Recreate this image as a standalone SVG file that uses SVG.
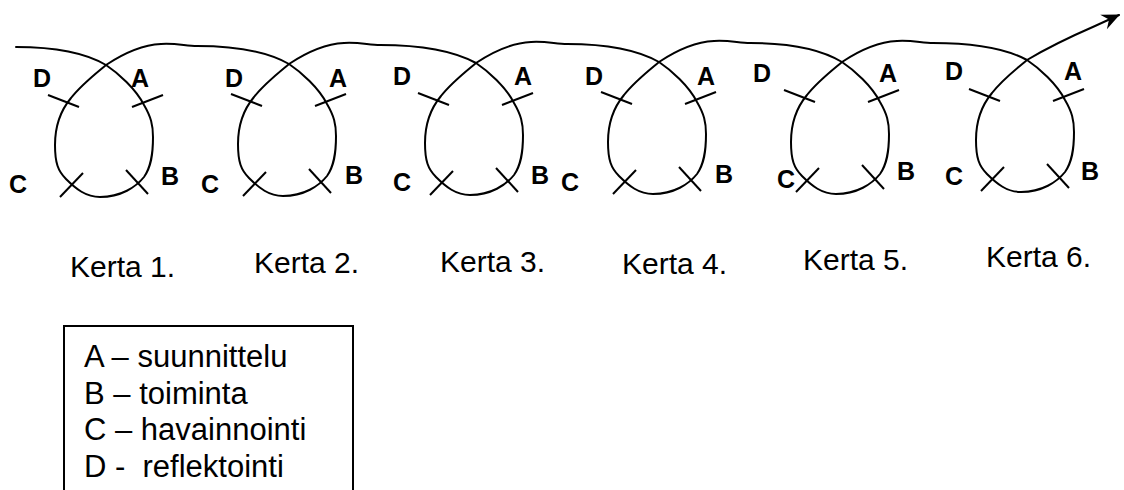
<svg xmlns="http://www.w3.org/2000/svg" xmlns:xlink="http://www.w3.org/1999/xlink" width="1124" height="490" viewBox="0 0 1124 490">
<style>
  .thread { fill: none; stroke: #000; stroke-width: 2; stroke-linecap: round; stroke-linejoin: round; }
  .tick { stroke: #000; stroke-width: 2; }
  .lbl { font-family: "Liberation Sans", Arial, sans-serif; font-weight: bold; font-size: 25px; fill: #000; }
  .kerta { font-family: "Liberation Sans", Arial, sans-serif; font-size: 30px; fill: #000; }
  .leg { font-family: "Liberation Sans", Arial, sans-serif; font-size: 31px; fill: #000; white-space: pre; }
</style>
<defs>
  <path id="loop" d="M0,0 C12,8 30,24 38,40 C45,52 47,60 47,72 C47,90 45,102 38,112 C30,122 15,132 -6,132 C-20,132 -30,124 -40,114 C-48,106 -51,98 -51,80 C-51,60 -45,45 -35,33 C-25,20 -12,10 0,0 C15,-10 35,-20 55,-21 C70,-22 80,-19 91,-19"/>
  <path id="loopLast" d="M0,0 C12,8 30,24 38,40 C45,52 47,60 47,72 C47,90 45,102 38,112 C30,122 15,132 -6,132 C-20,132 -30,124 -40,114 C-48,106 -51,98 -51,80 C-51,60 -45,45 -35,33 C-25,20 -12,10 0,0 C20,-12 45,-24 68,-34 L92,-45"/>
  <g id="ticks">
    <line class="tick" x1="-58" y1="30" x2="-27" y2="42"/>
    <line class="tick" x1="26" y1="42" x2="57" y2="30"/>
    <line class="tick" x1="-46" y1="132" x2="-23" y2="108"/>
    <line class="tick" x1="20" y1="105" x2="42" y2="129"/>
  </g>
  <marker id="arrow" viewBox="-18 -9 20 18" refX="0" refY="0" markerWidth="20" markerHeight="18" markerUnits="userSpaceOnUse" orient="auto">
    <path d="M1,0 L-17,-8 L-11,0 L-17,8 Z" fill="#000"/>
  </marker>
</defs>

<g id="connectors">
  <path class="thread" d="M16,47 C50,47 84,52 106,65"/>
  <path class="thread" d="M197,46 C232,46 266,51 289,64"/>
  <path class="thread" d="M380,45 C417,45 452,50 476,63"/>
  <path class="thread" d="M567,44 C602,44 636,49 659,62"/>
  <path class="thread" d="M750,43 C785,43 819,48 842,62"/>
  <path class="thread" d="M933,43 C968,43 1003,47 1027,60"/>
</g>

<g id="kerta1">
  <use href="#loop" xlink:href="#loop" class="thread" transform="translate(106,65)"/>
  <use href="#ticks" xlink:href="#ticks" transform="translate(106,65)"/>
  <text class="lbl" x="33" y="87">D</text>
  <text class="lbl" x="131" y="87">A</text>
  <text class="lbl" x="9" y="193">C</text>
  <text class="lbl" x="161" y="185">B</text>
  <text class="kerta" x="70" y="277">Kerta 1.</text>
</g>

<g id="kerta2">
  <use href="#loop" xlink:href="#loop" class="thread" transform="translate(289,64)"/>
  <use href="#ticks" xlink:href="#ticks" transform="translate(289,64)"/>
  <text class="lbl" x="225" y="87">D</text>
  <text class="lbl" x="329" y="87">A</text>
  <text class="lbl" x="201" y="193">C</text>
  <text class="lbl" x="345" y="184">B</text>
  <text class="kerta" x="254" y="273">Kerta 2.</text>
</g>

<g id="kerta3">
  <use href="#loop" xlink:href="#loop" class="thread" transform="translate(476,63)"/>
  <use href="#ticks" xlink:href="#ticks" transform="translate(476,63)"/>
  <text class="lbl" x="393" y="85">D</text>
  <text class="lbl" x="514" y="85">A</text>
  <text class="lbl" x="393" y="191">C</text>
  <text class="lbl" x="531" y="184">B</text>
  <text class="kerta" x="440" y="272">Kerta 3.</text>
</g>

<g id="kerta4">
  <use href="#loop" xlink:href="#loop" class="thread" transform="translate(659,62)"/>
  <use href="#ticks" xlink:href="#ticks" transform="translate(659,62)"/>
  <text class="lbl" x="585" y="85">D</text>
  <text class="lbl" x="697" y="85">A</text>
  <text class="lbl" x="561" y="191">C</text>
  <text class="lbl" x="715" y="183">B</text>
  <text class="kerta" x="622" y="274">Kerta 4.</text>
</g>

<g id="kerta5">
  <use href="#loop" xlink:href="#loop" class="thread" transform="translate(842,62)"/>
  <use href="#ticks" xlink:href="#ticks" transform="translate(842,60)"/>
  <text class="lbl" x="753" y="82">D</text>
  <text class="lbl" x="879" y="82">A</text>
  <text class="lbl" x="777" y="188">C</text>
  <text class="lbl" x="897" y="180">B</text>
  <text class="kerta" x="803" y="270">Kerta 5.</text>
</g>

<g id="kerta6">
  <use href="#loopLast" xlink:href="#loopLast" class="thread" marker-end="url(#arrow)" transform="translate(1027,60)"/>
  <use href="#ticks" xlink:href="#ticks" transform="translate(1027,59)"/>
  <text class="lbl" x="945" y="80">D</text>
  <text class="lbl" x="1064" y="80">A</text>
  <text class="lbl" x="945" y="185">C</text>
  <text class="lbl" x="1081" y="180">B</text>
  <text class="kerta" x="986" y="267">Kerta 6.</text>
</g>

<g id="legend">
  <path d="M64,492 V326 H353 V492" fill="none" stroke="#000" stroke-width="2"/>
  <text class="leg" x="84" y="367">A – suunnittelu</text>
  <text class="leg" x="84" y="404">B – toiminta</text>
  <text class="leg" x="84" y="440">C – havainnointi</text>
  <text class="leg" x="84" y="477">D -  reflektointi</text>
</g>
</svg>
